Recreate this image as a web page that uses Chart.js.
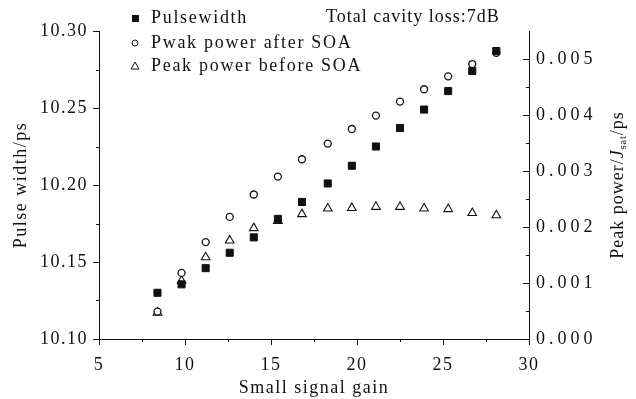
<!DOCTYPE html>
<html>
<head>
<meta charset="utf-8">
<script src="https://cdn.jsdelivr.net/npm/chart.js@4"></script>
<style>
  html,body{margin:0;padding:0;background:#fff;}
  #wrap{width:636px;height:399px;}
</style>
</head>
<body>
<div id="wrap"><canvas id="c" width="636" height="399"></canvas></div>
<script>
// data
const gain=[8.4,9.8,11.2,12.6,14.0,15.4,16.8,18.3,19.7,21.1,22.5,23.9,25.3,26.7,28.1];
const pulseWidth=[10.130,10.1355,10.146,10.156,10.166,10.178,10.189,10.201,10.2125,10.225,10.237,10.249,10.261,10.274,10.287];
const powerAfter=[0.00049,0.00118,0.00173,0.00218,0.00258,0.00290,0.00321,0.00349,0.00375,0.00399,0.00424,0.00446,0.00469,0.00491,0.00511];
const powerBefore=[0.00047,0.00104,0.00146,0.00176,0.00198,0.00211,0.00223,0.00233,0.00234,0.00236,0.00236,0.00233,0.00232,0.00225,0.00221];
const xTicks=[5,10,15,20,25,30];
const leftTicks=[10.10,10.15,10.20,10.25,10.30];
const rightTicks=[0,0.001,0.002,0.003,0.004,0.005];
const legendLabels=['Pulsewidth','Pwak power after SOA','Peak power before SOA'];

const FONT='"Liberation Serif", "DejaVu Serif", serif';
const INK='#111';

const pts=(ys)=>gain.map((g,i)=>({x:g,y:ys[i]}));

// ticks, legend, note and right title drawn on the canvas
const extras={
  id:'extras',
  beforeDraw(chart){ chart.ctx.letterSpacing='1.5px'; },
  afterDraw(chart){
    const {ctx,chartArea:a,scales}=chart;
    const x=scales.x,y=scales.y,y1=scales.y1;
    ctx.save();
    ctx.strokeStyle=INK; ctx.lineWidth=1;
    ctx.beginPath();
    // bottom ticks (outward)
    for(let v=5;v<=30;v+=2.5){
      const px=Math.round(x.getPixelForValue(v))+0.5;
      const len=(v%5===0)?6:3;
      ctx.moveTo(px,a.bottom); ctx.lineTo(px,a.bottom+len);
    }
    // left ticks (outward)
    for(let i=0;i<=8;i++){
      const v=10.10+i*0.025;
      const py=Math.round(y.getPixelForValue(v))+0.5;
      const len=(i%2===0)?6:3;
      ctx.moveTo(a.left,py); ctx.lineTo(a.left-len,py);
    }
    // right ticks (inward)
    for(let i=0;i<=10;i++){
      const v=i*0.0005;
      const py=Math.round(y1.getPixelForValue(v))+0.5;
      const len=(i%2===0)?6:3;
      ctx.moveTo(a.right,py); ctx.lineTo(a.right-len,py);
    }
    ctx.stroke();

    // right tick labels
    ctx.fillStyle=INK;
    ctx.font='18px '+FONT;
    ctx.letterSpacing='4px';
    ctx.textAlign='left'; ctx.textBaseline='middle';
    rightTicks.forEach(v=>{
      ctx.fillText(v.toFixed(3),a.right+7,y1.getPixelForValue(v));
    });

    // legend
    ctx.letterSpacing='1.7px';
    const rows=[18,43,66];
    const mx=135;
    legendLabels.forEach((t,i)=>{
      ctx.fillStyle=INK;
      ctx.fillText(t,151,rows[i]);
    });
    ctx.fillStyle=INK;
    ctx.fillRect(mx-3,rows[0]-3,7,7);
    ctx.beginPath(); ctx.arc(mx,rows[1],3,0,Math.PI*2);
    ctx.fillStyle='#fff'; ctx.fill(); ctx.stroke();
    ctx.beginPath(); ctx.moveTo(mx,rows[2]-4); ctx.lineTo(mx+4,rows[2]+3); ctx.lineTo(mx-4,rows[2]+3); ctx.closePath();
    ctx.stroke();

    // note
    ctx.fillStyle=INK;
    ctx.letterSpacing='1px';
    ctx.fillText('Total cavity loss:7dB',326,17);

    // right title with subscript
    ctx.translate(618,(a.top+a.bottom)/2);
    ctx.rotate(-Math.PI/2);
    ctx.letterSpacing='1px';
    const p1='Peak power/';
    ctx.font='18px '+FONT;
    const w1=ctx.measureText(p1).width;
    ctx.font='italic 18px '+FONT;
    const w2=ctx.measureText('J').width;
    ctx.font='10px '+FONT;
    const w3=ctx.measureText('sat').width;
    ctx.font='18px '+FONT;
    const w4=ctx.measureText('/ps').width;
    let sx=-(w1+w2+w3+w4)/2;
    ctx.textAlign='left';
    ctx.fillText(p1,sx,0); sx+=w1;
    ctx.font='italic 18px '+FONT; ctx.fillText('J',sx,0); sx+=w2;
    ctx.font='10px '+FONT; ctx.fillText('sat',sx,5); sx+=w3;
    ctx.font='18px '+FONT; ctx.fillText('/ps',sx,0);
    ctx.restore();
  }
};

new Chart(document.getElementById('c'),{
  type:'scatter',
  data:{datasets:[
    {label:legendLabels[0],data:pts(pulseWidth),yAxisID:'y',pointStyle:'rect',pointRadius:5,
     backgroundColor:INK,borderColor:INK,borderWidth:1},
    {label:legendLabels[1],data:pts(powerAfter),yAxisID:'y1',pointStyle:'circle',pointRadius:3.5,
     backgroundColor:'#fff',borderColor:INK,borderWidth:1.3},
    {label:legendLabels[2],data:pts(powerBefore),yAxisID:'y1',pointStyle:'triangle',pointRadius:5,
     backgroundColor:'#fff',borderColor:INK,borderWidth:1.1}
  ]},
  options:{
    responsive:false,animation:false,
    layout:{padding:{top:31,left:0,right:0,bottom:0}},
    plugins:{legend:{display:false},tooltip:{enabled:false}},
    scales:{
      x:{type:'linear',min:5,max:30,
        afterBuildTicks:s=>{s.ticks=xTicks.map(v=>({value:v}));},
        afterFit:s=>{s.height=60;},
        grid:{display:false,drawTicks:false},
        border:{display:true,color:INK,width:1},
        ticks:{color:INK,font:{family:FONT,size:18},padding:15,maxRotation:0},
        title:{display:true,text:'Small signal gain',color:INK,font:{family:FONT,size:18},padding:{top:0,bottom:0}}
      },
      y:{type:'linear',position:'left',min:10.10,max:10.30,
        afterBuildTicks:s=>{s.ticks=leftTicks.map(v=>({value:v}));},
        afterFit:s=>{s.width=99;},
        grid:{display:false,drawTicks:false},
        border:{display:true,color:INK,width:1},
        ticks:{color:INK,font:{family:FONT,size:18},padding:11,callback:v=>v.toFixed(2)},
        title:{display:true,text:'Pulse width/ps',color:INK,font:{family:FONT,size:18},padding:{top:10,bottom:0}}
      },
      y1:{type:'linear',position:'right',min:0,max:0.0055,
        afterBuildTicks:s=>{s.ticks=rightTicks.map(v=>({value:v}));},
        afterFit:s=>{s.width=107;},
        grid:{display:false,drawTicks:false},
        border:{display:true,color:INK,width:1},
        ticks:{display:false}
      }
    }
  },
  plugins:[extras]
});
</script>
</body>
</html>
